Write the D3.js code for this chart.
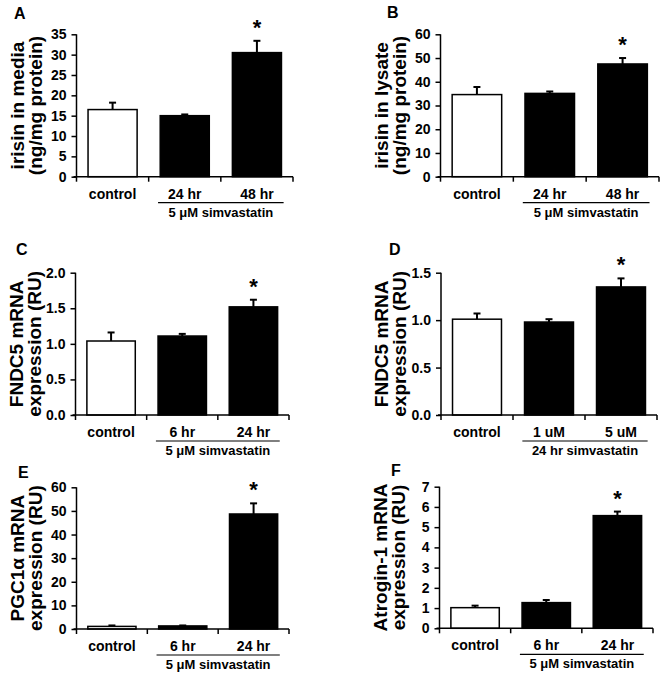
<!DOCTYPE html>
<html>
<head>
<meta charset="utf-8">
<script src="https://cdn.jsdelivr.net/npm/d3@7"></script>
<style>
  html, body { margin: 0; padding: 0; background: #fff; }
  svg text { font-family: "Liberation Sans", Arial, sans-serif; font-weight: bold; fill: #000; }
</style>
</head>
<body>
<svg id="chart" width="666" height="679"></svg>
<script>
// ---------- DATA ----------
const panelLetters = ["A", "B", "C", "D", "E", "F"];

const categoriesAB = ["control", "24 hr", "48 hr"];
const categoriesCEF = ["control", "6 hr", "24 hr"];
const categoriesD = ["control", "1 uM", "5 uM"];

const groupLabel5uM = "5 \u03BCM simvastatin";
const groupLabel24hr = "24 hr simvastatin";

const meansA = [16.5, 15.0, 30.5];
const errorsA = [1.7, 0.3, 2.9];
const meansB = [34.6, 35.1, 47.5];
const errorsB = [3.2, 0.8, 2.5];
const meansC = [1.04, 1.11, 1.52];
const errorsC = [0.12, 0.03, 0.10];
const meansD = [1.01, 0.98, 1.35];
const errorsD = [0.06, 0.03, 0.09];
const meansE = [1.1, 1.3, 48.7];
const errorsE = [0.4, 0.2, 4.5];
const meansF = [1.02, 1.27, 5.57];
const errorsF = [0.10, 0.13, 0.20];

const significant = [false, false, true];

const yTicksA = [0, 5, 10, 15, 20, 25, 30, 35];
const yTicksB = [0, 10, 20, 30, 40, 50, 60];
const yTicksC = [0, 0.5, 1.0, 1.5, 2.0];
const yTicksD = [0, 0.5, 1.0, 1.5];
const yTicksE = [0, 10, 20, 30, 40, 50, 60];
const yTicksF = [0, 1, 2, 3, 4, 5, 6, 7];

const yLabelsA = ["irisin in media", "(ng/mg protein)"];
const yLabelsB = ["irisin in lysate", "(ng/mg protein)"];
const yLabelsC = ["FNDC5 mRNA", "expression (RU)"];
const yLabelsD = ["FNDC5 mRNA", "expression (RU)"];
const yLabelsE = ["PGC1\u03B1 mRNA", "expression (RU)"];
const yLabelsF = ["Atrogin-1 mRNA", "expression (RU)"];

// ---------- LAYOUT ----------
const panels = [
  { letter: panelLetters[0], cats: categoriesAB, means: meansA, errs: errorsA, ticks: yTicksA, fmt: d3.format("d"), ylab: yLabelsA, group: groupLabel5uM,
    xr: [76.5, 293], yr: [176.7, 34.3], letterPos: [14, 19] },
  { letter: panelLetters[1], cats: categoriesAB, means: meansB, errs: errorsB, ticks: yTicksB, fmt: d3.format("d"), ylab: yLabelsB, group: groupLabel5uM,
    xr: [440.5, 659], yr: [176.7, 34.3], letterPos: [387, 18] },
  { letter: panelLetters[2], cats: categoriesCEF, means: meansC, errs: errorsC, ticks: yTicksC, fmt: d3.format(".1f"), ylab: yLabelsC, group: groupLabel5uM,
    xr: [75.5, 289], yr: [415, 272.7], letterPos: [16, 255] },
  { letter: panelLetters[3], cats: categoriesD, means: meansD, errs: errorsD, ticks: yTicksD, fmt: d3.format(".1f"), ylab: yLabelsD, group: groupLabel24hr,
    xr: [441, 657], yr: [415, 272.7], letterPos: [389, 255] },
  { letter: panelLetters[4], cats: categoriesCEF, means: meansE, errs: errorsE, ticks: yTicksE, fmt: d3.format("d"), ylab: yLabelsE, group: groupLabel5uM,
    xr: [76.5, 289], yr: [629, 487.3], letterPos: [18, 478] },
  { letter: panelLetters[5], cats: categoriesCEF, means: meansF, errs: errorsF, ticks: yTicksF, fmt: d3.format("d"), ylab: yLabelsF, group: groupLabel5uM,
    xr: [439.5, 653], yr: [628.3, 486.7], letterPos: [391, 476] }
];

const svg = d3.select("#chart");

panels.forEach(p => {
  const g = svg.append("g");
  const xStep = d3.scaleBand().domain(p.cats).range(p.xr).padding(0);
  const yMax = p.ticks[p.ticks.length - 1];
  const y = d3.scaleLinear().domain([0, yMax]).range(p.yr);
  const x0 = p.xr[0], x1 = p.xr[1], y0 = p.yr[0];

  // bars
  p.cats.forEach((c, i) => {
    const bw = xStep.bandwidth() * 0.68;
    const barX = xStep(c) + (xStep.bandwidth() - bw) / 2;
    const cx = barX + bw / 2;
    const top = y(p.means[i]);
    const errTop = y(p.means[i] + p.errs[i]);
    // error bar (upper only)
    g.append("line").attr("x1", cx).attr("x2", cx).attr("y1", top).attr("y2", errTop)
      .attr("stroke", "#000").attr("stroke-width", 2);
    g.append("line").attr("x1", cx - 3.5).attr("x2", cx + 3.5).attr("y1", errTop).attr("y2", errTop)
      .attr("stroke", "#000").attr("stroke-width", 2);
    g.append("rect")
      .attr("x", barX).attr("y", top).attr("width", bw).attr("height", y0 - top)
      .attr("fill", i === 0 ? "#fff" : "#000")
      .attr("stroke", "#000").attr("stroke-width", 1.5);
    if (significant[i]) {
      g.append("text").attr("x", cx).attr("y", errTop - 6)
        .attr("text-anchor", "middle").style("font-size", "22px").text("*");
    }
    // category label
    g.append("text").attr("x", cx).attr("y", y0 + 22)
      .attr("text-anchor", "middle").style("font-size", "14px").text(c);
  });

  // y axis
  const yAxis = d3.axisLeft(y).tickValues(p.ticks).tickFormat(p.fmt).tickSize(5).tickPadding(5);
  const ya = g.append("g").attr("transform", `translate(${x0},0)`).call(yAxis);
  ya.select(".domain").attr("d", `M0,${y(yMax)}V${y0}`).attr("stroke-width", 1.5);
  ya.selectAll(".tick line").attr("stroke-width", 1.5);
  ya.selectAll(".tick text").style("font-size", "14px").style("font-family", "'Liberation Sans', Arial, sans-serif").style("font-weight", "bold");

  // x axis (ticks at band boundaries)
  const bounds = p.cats.map(c => xStep(c)).concat([x1]);
  g.append("line").attr("x1", x0 - 3).attr("x2", x1).attr("y1", y0).attr("y2", y0)
    .attr("stroke", "#000").attr("stroke-width", 1.5);
  bounds.forEach(b => {
    g.append("line").attr("x1", b).attr("x2", b).attr("y1", y0).attr("y2", y0 + 5)
      .attr("stroke", "#000").attr("stroke-width", 1.5);
  });

  // group underline & label
  const c1 = xStep(p.cats[1]), c2 = xStep(p.cats[2]);
  const bwS = xStep.bandwidth();
  g.append("line").attr("x1", c1 + bwS * 0.13).attr("x2", c2 + bwS * 0.87)
    .attr("y1", y0 + 26).attr("y2", y0 + 26).attr("stroke", "#000").attr("stroke-width", 1.2);
  g.append("text").attr("x", c2).attr("y", y0 + 40)
    .attr("text-anchor", "middle").style("font-size", "13px").text(p.group);

  // y labels (two lines)
  const yc = (y0 + y(yMax)) / 2;
  [-53, -35].forEach((off, k) => {
    g.append("text")
      .attr("transform", `translate(${x0 + off},${yc}) rotate(-90)`)
      .attr("text-anchor", "middle").style("font-size", "19px").text(p.ylab[k]);
  });

  // panel letter
  g.append("text").attr("x", p.letterPos[0]).attr("y", p.letterPos[1])
    .style("font-size", "16px").text(p.letter);
});
</script>
</body>
</html>
